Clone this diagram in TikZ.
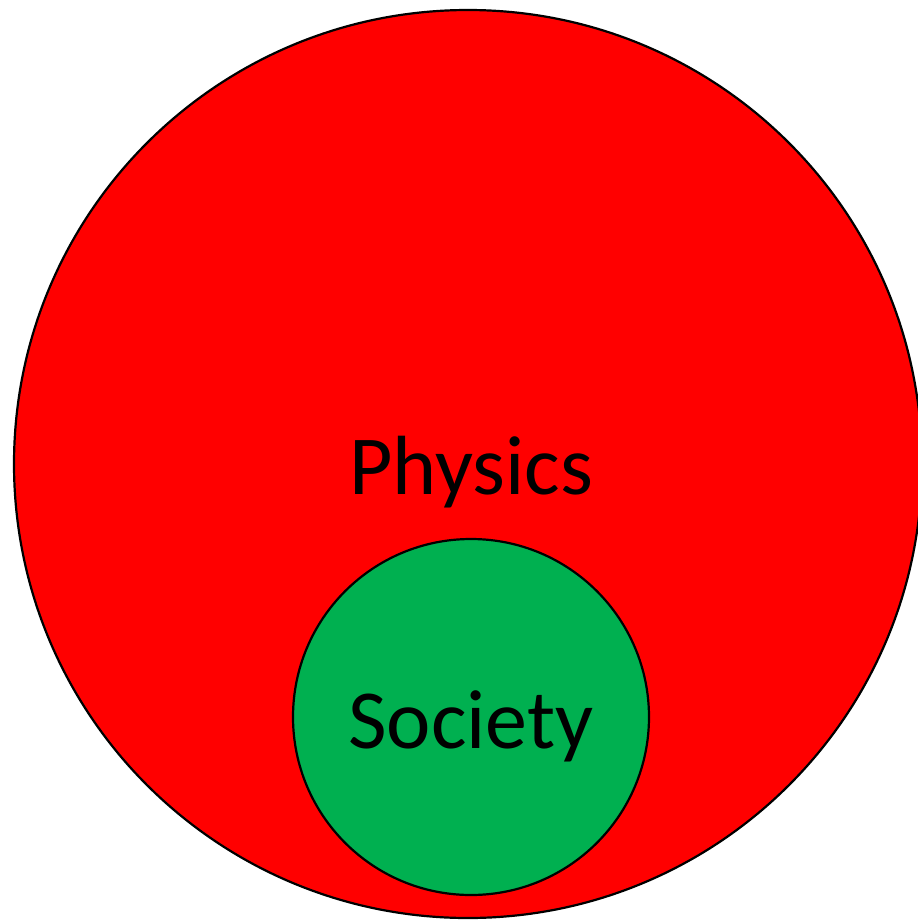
\documentclass[tikz,border=0pt]{standalone}
\usepackage{fontspec}
\setmainfont{Carlito}
\definecolor{physred}{RGB}{255,0,0}
\definecolor{socgreen}{RGB}{0,176,80}
\begin{document}
\begin{tikzpicture}[x=1pt,y=-1pt,
  circ/.style={draw=black,line width=2.2pt},
  lbl/.style={font=\fontsize{84}{92}\selectfont,text=black,anchor=base,inner sep=0pt}]
\useasboundingbox (0,0) rectangle (918,922);
\begin{scope}
\clip (0,0) rectangle (918,922);
\fill[physred] (468,464) circle[radius=454];
\draw[circ] (468,464) circle[radius=454];
\end{scope}
\node[circ,circle,fill=socgreen,minimum size=356pt,inner sep=0pt] (soc) at (471,717) {};
\node[lbl] (phys) at (471,494) {Physics};
\node[lbl] (society) at (471,748) {Society};
\end{tikzpicture}
\end{document}
